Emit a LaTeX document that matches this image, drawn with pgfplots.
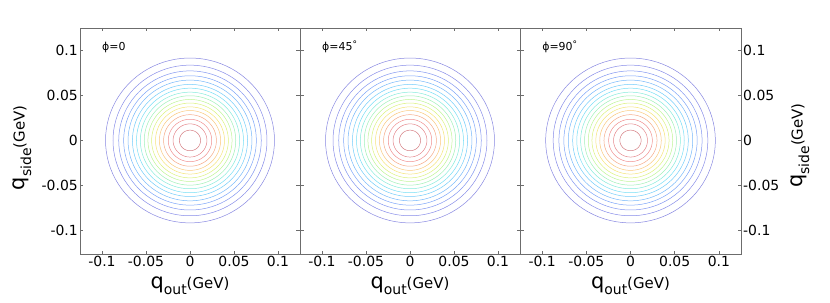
\documentclass[border=0pt]{standalone}
\usepackage{fontspec}
\setmainfont{DejaVu Sans}
\usepackage{pgfplots}
\usepackage{pgfplotstable}
\pgfplotsset{compat=1.18}

% contour levels: level, x-radius, y-radius (GeV)
\pgfplotstableread{
lev rx ry
1 0.0960 0.0915
2 0.0875 0.0836
3 0.0810 0.0772
4 0.0754 0.0718
5 0.0704 0.0670
6 0.0654 0.0622
7 0.0608 0.0580
8 0.0564 0.0536
9 0.0520 0.0496
10 0.0478 0.0455
11 0.0436 0.0415
12 0.0392 0.0373
13 0.0348 0.0332
14 0.0300 0.0286
15 0.0247 0.0235
16 0.0192 0.0184
17 0.0120 0.0114
}\ringtable

\definecolor{c1}{RGB}{135,135,225}
\definecolor{c2}{RGB}{135,140,232}
\definecolor{c3}{RGB}{130,150,240}
\definecolor{c4}{RGB}{125,165,248}
\definecolor{c5}{RGB}{120,185,250}
\definecolor{c6}{RGB}{115,205,250}
\definecolor{c7}{RGB}{120,222,245}
\definecolor{c8}{RGB}{135,235,220}
\definecolor{c9}{RGB}{160,240,185}
\definecolor{c10}{RGB}{190,245,150}
\definecolor{c11}{RGB}{220,242,125}
\definecolor{c12}{RGB}{245,228,120}
\definecolor{c13}{RGB}{250,200,125}
\definecolor{c14}{RGB}{245,170,135}
\definecolor{c15}{RGB}{240,145,145}
\definecolor{c16}{RGB}{228,135,140}
\definecolor{c17}{RGB}{212,125,130}

\newcommand\drawrings{%
  \pgfplotsinvokeforeach{0,...,16}{%
    \pgfplotstablegetelem{##1}{rx}\of\ringtable \let\rx\pgfplotsretval
    \pgfplotstablegetelem{##1}{ry}\of\ringtable \let\ry\pgfplotsretval
    \pgfplotstablegetelem{##1}{lev}\of\ringtable \let\lv\pgfplotsretval
    \edef\tmp{\noexpand\addplot[draw=c\lv, line width=0.5bp, domain=0:360, samples=91, no markers] ({\rx*cos(x)},{\ry*sin(x)});}%
    \tmp
  }%
}

\pgfplotsset{
  panel/.style={
    scale only axis, width=220bp, height=226bp,
    anchor=south west,
    xmin=-0.125, xmax=0.125, ymin=-0.126, ymax=0.1248,
    xtick={-0.1,-0.05,0,0.05,0.1},
    xticklabels={-0.1,-0.05,0,0.05,0.1},
    ytick={-0.1,-0.05,0,0.05,0.1},
    yticklabels={-0.1,-0.05,0,0.05,0.1},
    tick align=inside, major tick length=3.5bp,
    axis line style={gray!85!black, line width=0.6bp},
    tick style={gray!85!black, line width=0.5bp},
    ticklabel style={font=\fontsize{14}{14}\selectfont, inner sep=2bp},
    xlabel={\fontsize{21}{21}\selectfont q\raisebox{-6.5bp}{\fontsize{14}{14}\selectfont out}\fontsize{15}{15}\selectfont(GeV)},
    xlabel style={at={(axis description cs:0.5,0)}, anchor=base, yshift=-34bp, inner sep=0pt},
    clip=false,
  },
  ylab/.style={
    ylabel={\fontsize{21}{21}\selectfont q\raisebox{-6.5bp}{\fontsize{14}{14}\selectfont side}\fontsize{15}{15}\selectfont(GeV)},
  },
}

\begin{document}
\begin{tikzpicture}
\path[use as bounding box] (0,0) rectangle (830bp,303bp);

\begin{axis}[panel, ylab, at={(80bp,49bp)},
  yticklabel pos=left,
  ylabel style={at={(axis description cs:-0.2636,0.47)}, anchor=center, inner sep=0pt}]
\drawrings
\node[anchor=base west, font=\fontsize{11}{11}\selectfont, inner sep=0pt] at (axis cs:-0.1,0.1) {ϕ=0};
\end{axis}

\begin{axis}[panel, at={(300bp,49bp)}, yticklabels={}]
\drawrings
\node[anchor=base west, font=\fontsize{11}{11}\selectfont, inner sep=0pt] at (axis cs:-0.1,0.1) {ϕ=45\raisebox{2.5bp}{\fontsize{9}{9}\selectfont °}};
\end{axis}

\begin{axis}[panel, ylab, at={(520bp,49bp)}, width=221bp,
  yticklabel pos=right,
  ylabel style={at={(axis description cs:1.267,0.48)}, anchor=center, inner sep=0pt}]
\drawrings
\node[anchor=base west, font=\fontsize{11}{11}\selectfont, inner sep=0pt] at (axis cs:-0.1,0.1) {ϕ=90\raisebox{2.5bp}{\fontsize{9}{9}\selectfont °}};
\end{axis}
\end{tikzpicture}
\end{document}
